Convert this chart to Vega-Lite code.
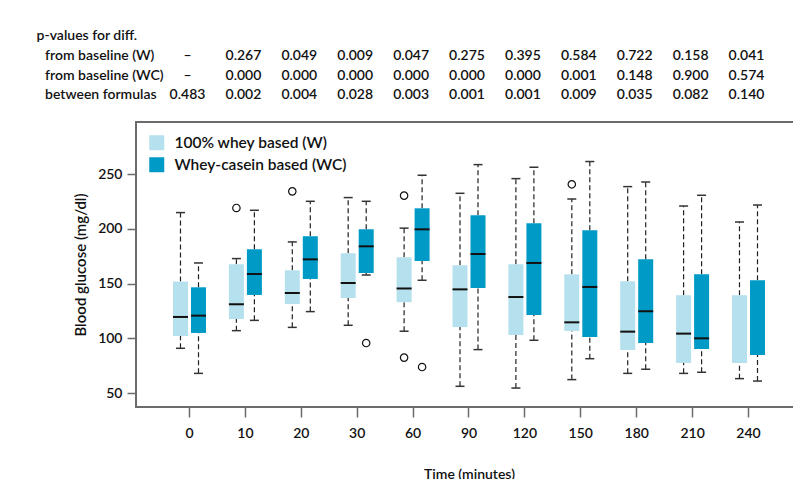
{
  "$schema": "https://vega.github.io/schema/vega-lite/v6.json",
  "padding": {"left": 36, "top": 29, "right": 0, "bottom": 0},
  "background": "white",
  "config": {
    "font": "Lato",
    "view": {"stroke": "#6b6b6b", "strokeWidth": 2},
    "axis": {"grid": false}
  },
  "datasets": {
    "pvals": [
      {"row": "from baseline (W)", "time": "0", "p": "–"},
      {"row": "from baseline (W)", "time": "10", "p": "0.267"},
      {"row": "from baseline (W)", "time": "20", "p": "0.049"},
      {"row": "from baseline (W)", "time": "30", "p": "0.009"},
      {"row": "from baseline (W)", "time": "60", "p": "0.047"},
      {"row": "from baseline (W)", "time": "90", "p": "0.275"},
      {"row": "from baseline (W)", "time": "120", "p": "0.395"},
      {"row": "from baseline (W)", "time": "150", "p": "0.584"},
      {"row": "from baseline (W)", "time": "180", "p": "0.722"},
      {"row": "from baseline (W)", "time": "210", "p": "0.158"},
      {"row": "from baseline (W)", "time": "240", "p": "0.041"},
      {"row": "from baseline (WC)", "time": "0", "p": "–"},
      {"row": "from baseline (WC)", "time": "10", "p": "0.000"},
      {"row": "from baseline (WC)", "time": "20", "p": "0.000"},
      {"row": "from baseline (WC)", "time": "30", "p": "0.000"},
      {"row": "from baseline (WC)", "time": "60", "p": "0.000"},
      {"row": "from baseline (WC)", "time": "90", "p": "0.000"},
      {"row": "from baseline (WC)", "time": "120", "p": "0.000"},
      {"row": "from baseline (WC)", "time": "150", "p": "0.001"},
      {"row": "from baseline (WC)", "time": "180", "p": "0.148"},
      {"row": "from baseline (WC)", "time": "210", "p": "0.900"},
      {"row": "from baseline (WC)", "time": "240", "p": "0.574"},
      {"row": "between formulas", "time": "0", "p": "0.483"},
      {"row": "between formulas", "time": "10", "p": "0.002"},
      {"row": "between formulas", "time": "20", "p": "0.004"},
      {"row": "between formulas", "time": "30", "p": "0.028"},
      {"row": "between formulas", "time": "60", "p": "0.003"},
      {"row": "between formulas", "time": "90", "p": "0.001"},
      {"row": "between formulas", "time": "120", "p": "0.001"},
      {"row": "between formulas", "time": "150", "p": "0.009"},
      {"row": "between formulas", "time": "180", "p": "0.035"},
      {"row": "between formulas", "time": "210", "p": "0.082"},
      {"row": "between formulas", "time": "240", "p": "0.140"}
    ],
    "boxes": [
      {"time": "0", "group": "100% whey based (W)", "lo": 90.9, "q1": 102.1, "med": 119.5, "q3": 151.8, "hi": 214.8},
      {"time": "10", "group": "100% whey based (W)", "lo": 107.0, "q1": 117.6, "med": 131.1, "q3": 167.6, "hi": 172.8},
      {"time": "20", "group": "100% whey based (W)", "lo": 110.0, "q1": 131.3, "med": 141.4, "q3": 162.1, "hi": 188.0},
      {"time": "30", "group": "100% whey based (W)", "lo": 111.9, "q1": 136.8, "med": 150.5, "q3": 177.6, "hi": 228.5},
      {"time": "60", "group": "100% whey based (W)", "lo": 106.5, "q1": 133.0, "med": 145.5, "q3": 174.0, "hi": 200.6},
      {"time": "90", "group": "100% whey based (W)", "lo": 56.2, "q1": 110.3, "med": 144.7, "q3": 166.7, "hi": 232.4},
      {"time": "120", "group": "100% whey based (W)", "lo": 54.6, "q1": 103.0, "med": 137.7, "q3": 167.6, "hi": 245.8},
      {"time": "150", "group": "100% whey based (W)", "lo": 62.3, "q1": 106.7, "med": 114.6, "q3": 158.4, "hi": 227.2},
      {"time": "180", "group": "100% whey based (W)", "lo": 68.0, "q1": 89.4, "med": 106.1, "q3": 152.1, "hi": 238.5},
      {"time": "210", "group": "100% whey based (W)", "lo": 68.0, "q1": 77.4, "med": 104.3, "q3": 139.3, "hi": 220.8},
      {"time": "240", "group": "100% whey based (W)", "lo": 63.2, "q1": 77.4, "med": null, "q3": 139.3, "hi": 206.2},
      {"time": "0", "group": "Whey-casein based (WC)", "lo": 68.0, "q1": 104.9, "med": 120.7, "q3": 146.6, "hi": 168.8},
      {"time": "10", "group": "Whey-casein based (WC)", "lo": 116.4, "q1": 139.6, "med": 158.7, "q3": 181.3, "hi": 216.9},
      {"time": "20", "group": "Whey-casein based (WC)", "lo": 124.4, "q1": 154.2, "med": 172.1, "q3": 193.2, "hi": 225.1},
      {"time": "30", "group": "Whey-casein based (WC)", "lo": 157.8, "q1": 159.6, "med": 184.0, "q3": 199.5, "hi": 225.1},
      {"time": "60", "group": "Whey-casein based (WC)", "lo": 153.0, "q1": 170.6, "med": 199.5, "q3": 218.7, "hi": 248.9},
      {"time": "90", "group": "Whey-casein based (WC)", "lo": 89.7, "q1": 145.9, "med": 177.0, "q3": 212.3, "hi": 258.6},
      {"time": "120", "group": "Whey-casein based (WC)", "lo": 98.2, "q1": 121.3, "med": 168.8, "q3": 205.0, "hi": 256.2},
      {"time": "150", "group": "Whey-casein based (WC)", "lo": 81.4, "q1": 101.2, "med": 146.9, "q3": 198.6, "hi": 261.4},
      {"time": "180", "group": "Whey-casein based (WC)", "lo": 71.7, "q1": 95.7, "med": 124.7, "q3": 172.1, "hi": 242.7},
      {"time": "210", "group": "Whey-casein based (WC)", "lo": 69.0, "q1": 90.3, "med": 100.0, "q3": 158.4, "hi": 230.6},
      {"time": "240", "group": "Whey-casein based (WC)", "lo": 61.0, "q1": 84.8, "med": null, "q3": 153.0, "hi": 221.7}
    ],
    "outliers": [
      {"time": "10", "group": "100% whey based (W)", "value": 219.0},
      {"time": "20", "group": "100% whey based (W)", "value": 234.2},
      {"time": "30", "group": "Whey-casein based (WC)", "value": 95.7},
      {"time": "60", "group": "100% whey based (W)", "value": 230.3},
      {"time": "60", "group": "100% whey based (W)", "value": 82.4},
      {"time": "60", "group": "Whey-casein based (WC)", "value": 73.8},
      {"time": "150", "group": "100% whey based (W)", "value": 240.6}
    ]
  },
  "spacing": 16,
  "resolve": {"legend": {"color": "independent"}},
  "vconcat": [
    {
      "width": 666,
      "height": 59,
      "view": {"stroke": null},
      "title": {"text": "p-values for diff.", "anchor": "start", "frame": "bounds", "fontSize": 14, "fontWeight": 600, "offset": -8, "dx": -8, "baseline": "alphabetic", "color": "#111"},
      "data": {"name": "pvals"},
      "mark": {"type": "text", "fontSize": 14, "fontWeight": 600, "dx": -2, "color": "#111"},
      "encoding": {
        "x": {"field": "time", "type": "nominal", "scale": {"type": "band", "domain": ["0", "10", "20", "30", "60", "90", "120", "150", "180", "210", "240"], "paddingInner": 0, "paddingOuter": 0.457}, "axis": null},
        "y": {"field": "row", "type": "nominal", "scale": {"type": "band", "domain": ["from baseline (W)", "from baseline (WC)", "between formulas"], "paddingInner": 0, "paddingOuter": 0},
          "axis": {"title": null, "ticks": false, "domain": false, "labelAlign": "left", "labelPadding": 91.4, "labelLimit": 300, "labelFontSize": 14, "labelFontWeight": 600, "labelColor": "#111"}},
        "text": {"field": "p"}
      }
    },
    {
      "width": 666,
      "height": 285,
      "data": {"name": "boxes"},
      "encoding": {
        "x": {"field": "time", "type": "nominal", "scale": {"type": "band", "domain": ["0", "10", "20", "30", "60", "90", "120", "150", "180", "210", "240"], "paddingInner": 0, "paddingOuter": 0.457},
          "axis": {"title": "Time (minutes)", "domain": false, "tickSize": 10, "tickColor": "#6b6b6b", "tickWidth": 1.5, "labelPadding": 9, "labelAngle": 0, "labelFontSize": 14, "labelFontWeight": 600, "labelColor": "#111", "titleFontSize": 14, "titleFontWeight": 600, "titleColor": "#111", "titlePadding": 27}},
        "xOffset": {"field": "group", "type": "nominal", "scale": {"domain": ["100% whey based (W)", "Whey-casein based (WC)"], "paddingInner": 0.167, "paddingOuter": 0.636}}
      },
      "layer": [
        {
          "mark": {"type": "rule", "strokeDash": [5, 3], "color": "#222", "strokeWidth": 1.2},
          "encoding": {
            "y": {"field": "lo", "type": "quantitative", "title": "Blood glucose (mg/dl)", "scale": {"domain": [37.3, 297.5], "nice": false, "zero": false},
              "axis": {"domain": false, "tickSize": 9, "tickColor": "#6b6b6b", "tickWidth": 1.5, "labelPadding": 5, "labelFontSize": 14, "labelFontWeight": 600, "labelColor": "#111", "titleFontSize": 15, "titleFontWeight": 600, "titleColor": "#111", "titlePadding": 9, "values": [50, 100, 150, 200, 250]}},
            "y2": {"field": "q1"}
          }
        },
        {
          "mark": {"type": "rule", "strokeDash": [5, 3], "color": "#222", "strokeWidth": 1.2},
          "encoding": {
            "y": {"field": "q3", "type": "quantitative", "title": "Blood glucose (mg/dl)"},
            "y2": {"field": "hi"}
          }
        },
        {
          "mark": {"type": "bar", "opacity": 1},
          "encoding": {
            "y": {"field": "q1", "type": "quantitative", "title": "Blood glucose (mg/dl)"},
            "y2": {"field": "q3"},
            "color": {"field": "group", "type": "nominal", "scale": {"domain": ["100% whey based (W)", "Whey-casein based (WC)"], "range": ["#b4e1ed", "#009ac6"]},
              "legend": {"orient": "top-left", "offset": 13, "title": null, "symbolType": "square", "symbolSize": 225, "symbolStrokeWidth": 0, "symbolOpacity": 1, "labelFontSize": 15.5, "labelFontWeight": 600, "labelColor": "#111", "labelOffset": 10, "labelLimit": 400, "rowPadding": 5, "padding": 0}}
          }
        },
        {
          "mark": {"type": "tick", "color": "#111", "size": 15, "thickness": 2, "opacity": 1},
          "encoding": {"y": {"field": "med", "type": "quantitative", "title": "Blood glucose (mg/dl)"}}
        },
        {
          "mark": {"type": "tick", "color": "#333", "size": 9, "thickness": 1.5, "opacity": 1},
          "encoding": {"y": {"field": "lo", "type": "quantitative", "title": "Blood glucose (mg/dl)"}}
        },
        {
          "mark": {"type": "tick", "color": "#333", "size": 9, "thickness": 1.5, "opacity": 1},
          "encoding": {"y": {"field": "hi", "type": "quantitative", "title": "Blood glucose (mg/dl)"}}
        },
        {
          "data": {"name": "outliers"},
          "mark": {"type": "point", "shape": "circle", "filled": false, "stroke": "#111", "strokeWidth": 1.2, "size": 55, "opacity": 1},
          "encoding": {"y": {"field": "value", "type": "quantitative", "title": "Blood glucose (mg/dl)"}}
        }
      ]
    }
  ]
}
